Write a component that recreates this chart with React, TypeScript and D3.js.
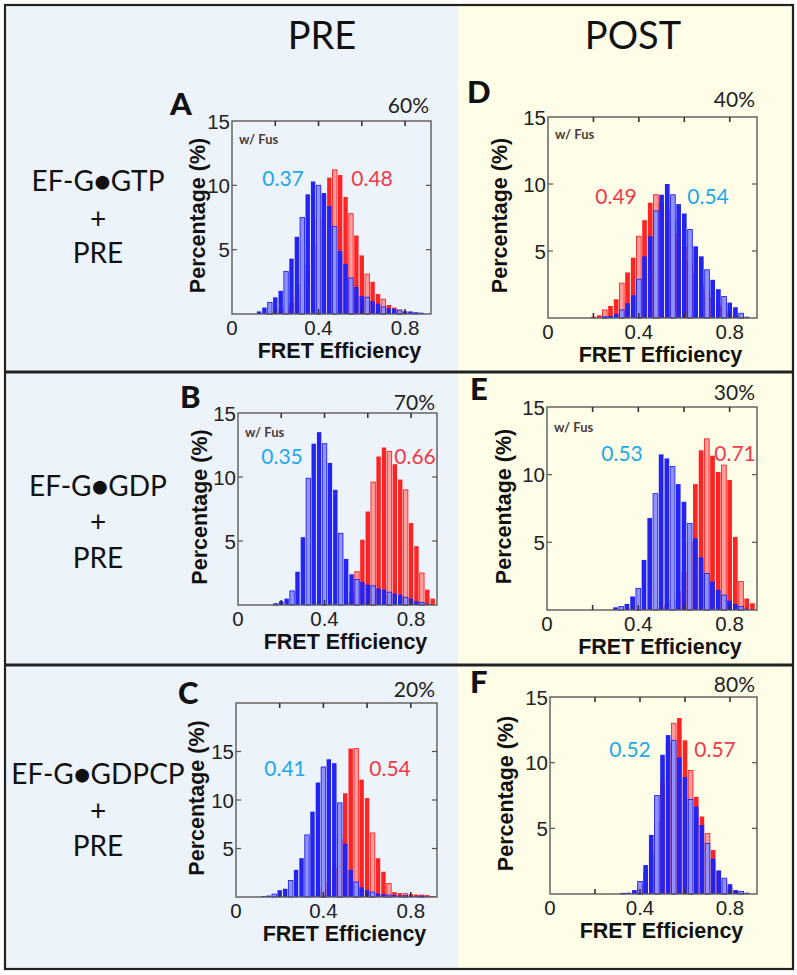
import * as d3 from "d3";

// FRET histograms, bin width 0.025, bin k centred at 0.025 * k (k = 0..36)
const binWidth = 0.025;
const binCenters = d3.range(37).map((k) => +(k * binWidth).toFixed(4));

const xTicks = [0.2, 0.4, 0.6, 0.8];
const xTickLabels = [0, 0.4, 0.8];
const yTickLabels = [5, 10, 15];

// percentages per bin
const aBlue = [0, 0, 0, 0, 0, 0.2, 0.5, 0.9, 1.3, 1.8, 3.3, 4.3, 6.0, 7.5, 9.3, 10.3, 10.0, 9.4, 8.4, 6.8, 4.9, 3.9, 2.8, 2.1, 1.4, 1.3, 1.0, 0.8, 0.55, 0.45, 0.4, 0.3, 0.2, 0.2, 0.1, 0.1, 0];
const aRed = [0, 0, 0, 0, 0, 0, 0, 0.1, 0.1, 0.3, 0.5, 0.9, 1.5, 2.3, 3.8, 5.5, 7.5, 9.2, 10.6, 11.2, 10.8, 9.1, 7.8, 6.1, 4.55, 3.1, 2.5, 1.55, 1.15, 0.7, 0.5, 0.3, 0.2, 0.1, 0, 0, 0];
const bBlue = [0, 0, 0, 0, 0, 0, 0, 0.1, 0.3, 0.5, 1.1, 2.6, 5.3, 9.9, 12.6, 13.5, 12.6, 11.1, 9.0, 5.6, 3.6, 2.4, 2.0, 1.8, 1.6, 1.5, 1.3, 1.2, 1.0, 0.9, 0.8, 0.6, 0.5, 0.3, 0.2, 0.1, 0];
const bRed = [0, 0, 0, 0, 0, 0, 0, 0, 0, 0, 0, 0, 0, 0, 0, 0, 0, 0, 0, 0, 0.3, 1.0, 2.6, 5.1, 7.3, 9.6, 11.6, 12.3, 12.0, 11.0, 9.8, 9.0, 6.4, 4.6, 2.5, 1.2, 0.5];
const cBlue = [0, 0, 0, 0, 0, 0.1, 0.15, 0.3, 0.7, 0.85, 1.7, 2.8, 4.0, 6.4, 8.8, 11.8, 13.4, 14.2, 13.8, 9.7, 5.5, 2.8, 1.55, 1.0, 0.7, 0.5, 0.35, 0.3, 0.2, 0.2, 0.15, 0.15, 0.1, 0.1, 0.1, 0.05, 0];
const cRed = [0, 0, 0, 0, 0, 0, 0, 0, 0, 0, 0, 0, 0, 0, 0.1, 0.3, 0.7, 1.5, 3.0, 6.0, 10.7, 15.3, 15.3, 12.1, 10.2, 6.6, 4.0, 2.6, 1.4, 0.5, 0.4, 0.35, 0.3, 0.25, 0.2, 0.2, 0.1];
const dBlue = [0, 0, 0, 0, 0, 0, 0, 0, 0, 0, 0.1, 0.15, 0.3, 0.6, 1.1, 1.7, 2.9, 4.6, 6.1, 8.0, 9.2, 10.0, 9.2, 8.5, 7.8, 6.6, 5.35, 4.6, 3.6, 2.85, 2.15, 1.6, 1.15, 0.8, 0.35, 0.1, 0];
const dRed = [0, 0, 0, 0, 0, 0, 0, 0, 0.1, 0.2, 0.6, 0.9, 1.4, 2.6, 3.4, 4.5, 6.1, 7.3, 8.6, 9.2, 8.6, 8.1, 7.3, 6.3, 5.3, 4.2, 3.3, 2.5, 2.0, 1.5, 1.0, 0.7, 0.4, 0.2, 0.1, 0, 0];
const eBlue = [0, 0, 0, 0, 0, 0, 0, 0, 0, 0, 0, 0, 0.2, 0.25, 0.45, 1.0, 1.6, 3.7, 6.8, 8.6, 11.5, 11.2, 10.6, 9.3, 8.0, 6.4, 5.3, 3.9, 2.7, 2.1, 1.5, 1.1, 0.7, 0.45, 0.25, 0.1, 0];
const eRed = [0, 0, 0, 0, 0, 0, 0, 0, 0, 0, 0, 0, 0, 0, 0, 0, 0, 0, 0, 0, 0.2, 0.4, 0.7, 1.4, 2.8, 5.0, 9.3, 11.8, 12.65, 11.4, 10.2, 10.7, 9.6, 5.4, 2.1, 0.85, 0.5];
const fBlue = [0, 0, 0, 0, 0, 0, 0, 0, 0, 0, 0, 0, 0, 0.05, 0.1, 0.3, 0.95, 2.2, 4.5, 7.5, 10.6, 12.1, 11.7, 10.4, 8.9, 7.2, 6.65, 5.25, 3.85, 2.7, 1.8, 1.2, 0.75, 0.3, 0.2, 0.1, 0];
const fRed = [0, 0, 0, 0, 0, 0, 0, 0, 0, 0, 0, 0, 0, 0, 0, 0.2, 0.6, 1.7, 3.0, 5.5, 8.5, 11.5, 13.0, 13.4, 11.7, 9.4, 7.4, 5.9, 4.6, 3.35, 1.7, 1.0, 0.5, 0.25, 0.1, 0, 0];

const panelLetters = ["A", "B", "C", "D", "E", "F"];
const panelPercents = ["60%", "70%", "20%", "40%", "30%", "80%"];
const panelYMax = [15, 15, 20, 15, 15, 15];
const panelFus = [true, true, false, true, true, false];
const blueMeans = ["0.37", "0.35", "0.41", "0.54", "0.53", "0.52"];
const redMeans = ["0.48", "0.66", "0.54", "0.49", "0.71", "0.57"];
const blueSeries = [aBlue, bBlue, cBlue, dBlue, eBlue, fBlue];
const redSeries = [aRed, bRed, cRed, dRed, eRed, fRed];

const columnTitles = ["PRE", "POST"];
const rowLabels = [
  ["EF-G\u25CFGTP", "+", "PRE"],
  ["EF-G\u25CFGDP", "+", "PRE"],
  ["EF-G\u25CFGDPCP", "+", "PRE"],
];

// layout (pixels)
const boxes = [
  { left: 232, top: 121, width: 199, height: 193, yl: 198, letterX: 170, letterY: 115, pctY: 113, fusY: 144, meanY: 177, blueX: 283, redX: 372 },
  { left: 238, top: 413, width: 199, height: 192, yl: 200, letterX: 180, letterY: 408, pctY: 410, fusY: 437, meanY: 455, blueX: 282, redX: 415 },
  { left: 236, top: 703, width: 201, height: 194, yl: 197, letterX: 178, letterY: 704, pctY: 697, fusY: 0, meanY: 767, blueX: 285, redX: 390 },
  { left: 548, top: 117, width: 209, height: 201, yl: 500, letterX: 467, letterY: 103, pctY: 107, fusY: 139, meanY: 195, blueX: 708, redX: 616 },
  { left: 547, top: 407, width: 210, height: 203, yl: 504, letterX: 470, letterY: 400, pctY: 400, fusY: 432, meanY: 452, blueX: 622, redX: 735 },
  { left: 550, top: 697, width: 207, height: 197, yl: 506, letterX: 470, letterY: 693, pctY: 692, fusY: 0, meanY: 748, blueX: 630, redX: 715 },
];
const rowLabelYs = [
  [180, 218, 252],
  [485, 521, 557],
  [773, 810, 845],
];

const BLUE = "#2323f2";
const BLUE_LIGHT = "#9092ff";
const RED = "#ff2424";
const RED_LIGHT = "#ff9c9c";
const CYAN = "#22a8e6";
const LABEL_RED = "#f03a48";
const calibri = "Lato, 'Open Sans', sans-serif";
const arial = "'Liberation Sans', Arial, sans-serif";

const Histogram = ({ i }: { i: number }) => {
  const b = boxes[i];
  const xScale = d3.scaleLinear().domain([0, 0.92]).range([b.left, b.left + b.width]);
  const yScale = d3.scaleLinear().domain([0, panelYMax[i]]).range([b.top + b.height, b.top]);
  const bw = xScale(binWidth) - xScale(0);
  const right = b.left + b.width;
  const bottom = b.top + b.height;

  const bars = (vals: number[], solid: string, light: string) =>
    vals.map((v, k) => {
      if (v <= 0) return null;
      const x0 = xScale(binCenters[k] - binWidth / 2);
      const y0 = yScale(v);
      const isLight = k % 3 === 1;
      return (
        <rect
          key={k}
          x={x0 + 0.5}
          y={y0}
          width={bw - 1}
          height={yScale(0) - y0}
          fill={isLight ? light : solid}
          stroke={isLight ? solid : "none"}
          strokeWidth={0.9}
        />
      );
    });

  const yTicks = d3.range(5, panelYMax[i], 5);

  return (
    <g>
      {bars(redSeries[i], RED, RED_LIGHT)}
      {bars(blueSeries[i], BLUE, BLUE_LIGHT)}
      <rect x={b.left} y={b.top} width={b.width} height={b.height} fill="none" stroke="#5a5a5a" strokeWidth={1.4} />
      {xTicks.map((t) => (
        <g key={t}>
          <line x1={xScale(t)} x2={xScale(t)} y1={b.top} y2={b.top + 5} stroke="#333" strokeWidth={1.6} />
          <line x1={xScale(t)} x2={xScale(t)} y1={bottom} y2={bottom - 5} stroke="#333" strokeWidth={1.6} />
        </g>
      ))}
      {yTicks.map((t) => (
        <g key={t}>
          <line x1={b.left} x2={b.left + 5} y1={yScale(t)} y2={yScale(t)} stroke="#555" strokeWidth={1.2} />
          <line x1={right} x2={right - 5} y1={yScale(t)} y2={yScale(t)} stroke="#555" strokeWidth={1.2} />
        </g>
      ))}
      {yTickLabels.map((t) => (
        <text key={t} x={b.left - 2} y={yScale(t)} textAnchor="end" dominantBaseline="central" fontFamily={arial} fontSize={20.5} fill="#222">
          {t}
        </text>
      ))}
      {xTickLabels.map((t) => (
        <text key={t} x={xScale(t)} y={bottom + 21} textAnchor="middle" fontFamily={arial} fontSize={20.5} fill="#222">
          {t}
        </text>
      ))}
      <text x={(b.left + right) / 2 + 8} y={bottom + 44} textAnchor="middle" fontFamily={arial} fontWeight="bold" fontSize={21.5} fill="#111">
        FRET Efficiency
      </text>
      <text
        transform={`translate(${b.yl + 7},${b.top + b.height / 2 - 2}) rotate(-90)`}
        textAnchor="middle"
        fontFamily={arial}
        fontWeight="bold"
        fontSize={21.5}
        fill="#111"
      >
        Percentage (%)
      </text>
      <text x={b.letterX} y={b.letterY} fontFamily={calibri} fontWeight={900} fontSize={31} fill="#111">
        {panelLetters[i]}
      </text>
      <text x={right - 2} y={b.pctY} textAnchor="end" fontFamily={calibri} fontSize={21} fill="#222">
        {panelPercents[i]}
      </text>
      {panelFus[i] && (
        <text x={b.left + 7} y={b.fusY} fontFamily={calibri} fontWeight="bold" fontSize={13} fill="#4a3c3c">
          w/ Fus
        </text>
      )}
      <text x={b.blueX} y={b.meanY} textAnchor="middle" dominantBaseline="central" fontFamily={calibri} fontSize={21} fill={CYAN}>
        {blueMeans[i]}
      </text>
      <text x={b.redX} y={b.meanY} textAnchor="middle" dominantBaseline="central" fontFamily={calibri} fontSize={21} fill={LABEL_RED}>
        {redMeans[i]}
      </text>
    </g>
  );
};

export default function App() {
  return (
    <svg width={797} height={975} style={{ position: "absolute", left: 0, top: 0, background: "#fff" }}>
      <rect x={5} y={5} width={453} height={964} fill="#edf3fa" />
      <rect x={458} y={5} width={335} height={964} fill="#fdfde8" />
      <rect x={5} y={5} width={788} height={964} fill="none" stroke="#222" strokeWidth={2.2} />
      <line x1={5} x2={793} y1={372} y2={372} stroke="#222" strokeWidth={2.8} />
      <line x1={5} x2={793} y1={665} y2={665} stroke="#222" strokeWidth={2.8} />

      <text x={322} y={49} textAnchor="middle" fontFamily={calibri} fontSize={38} fill="#111">
        {columnTitles[0]}
      </text>
      <text x={633} y={49} textAnchor="middle" fontFamily={calibri} fontSize={38} fill="#111">
        {columnTitles[1]}
      </text>

      {rowLabels.map((lines, r) =>
        lines.map((s, j) => (
          <text key={`${r}-${j}`} x={98} y={rowLabelYs[r][j]} textAnchor="middle" dominantBaseline="central" fontFamily={calibri} fontSize={28} fill="#111">
            {s}
          </text>
        ))
      )}

      {panelLetters.map((_, i) => (
        <Histogram key={i} i={i} />
      ))}
    </svg>
  );
}
